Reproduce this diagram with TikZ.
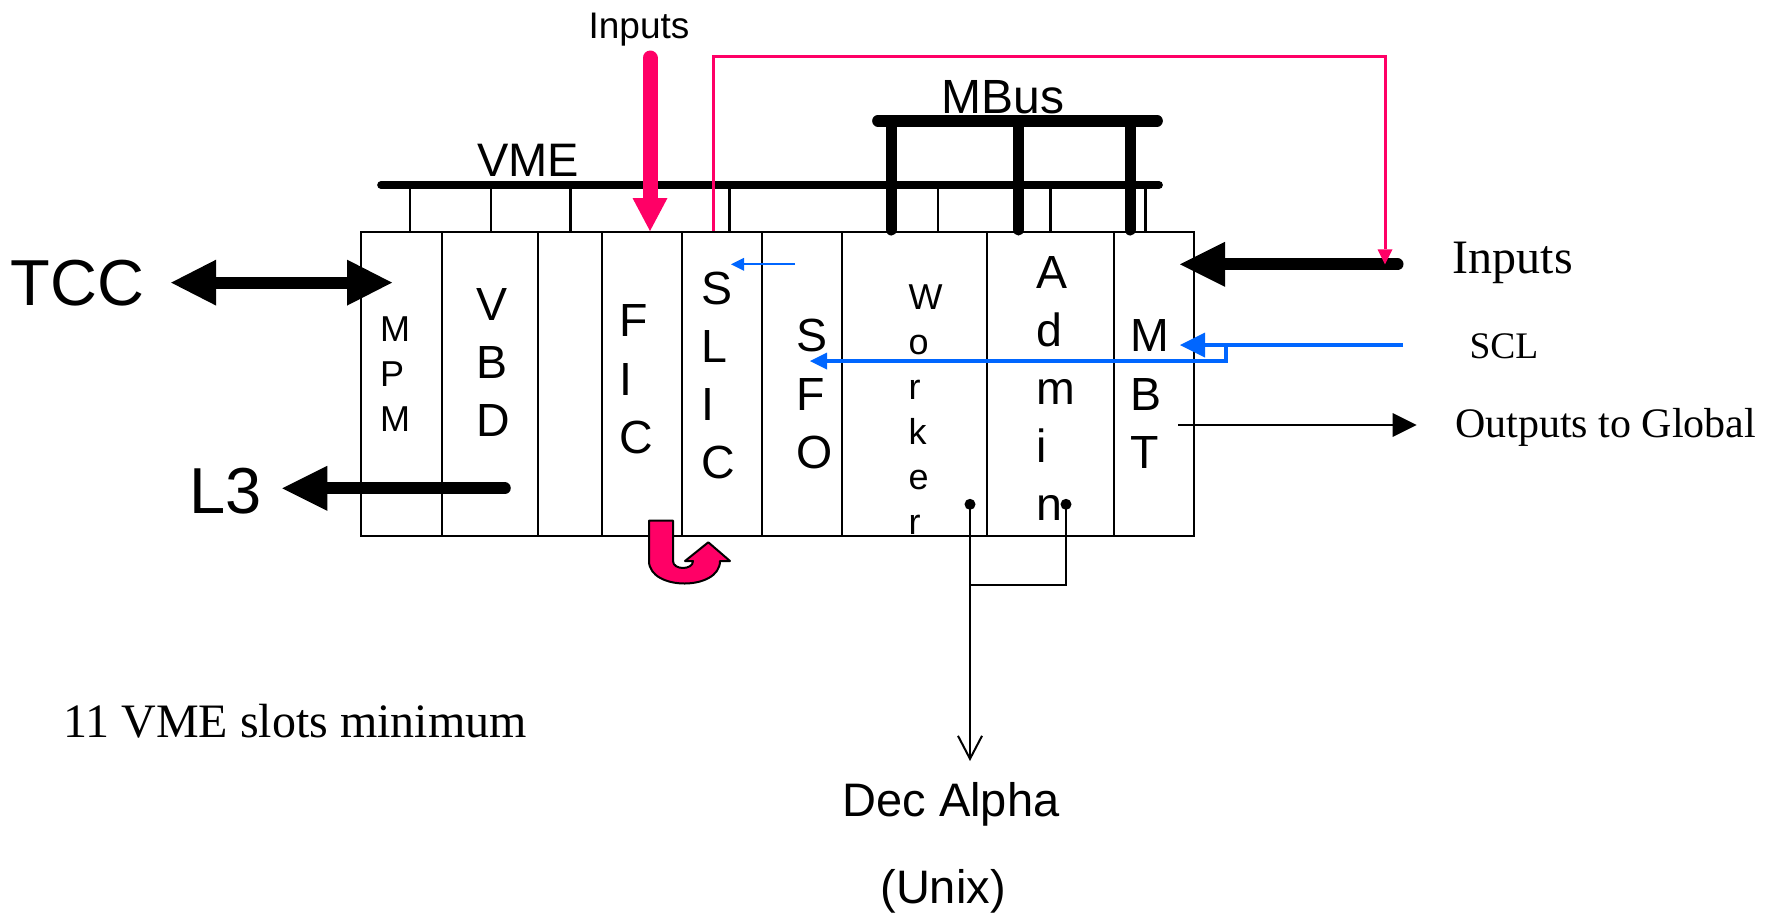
\documentclass[tikz,border=0pt]{standalone}
\usepackage{fontspec}
\setmainfont{Liberation Sans}
\newfontfamily\serifface{Liberation Serif}
\usetikzlibrary{arrows.meta}
\definecolor{pinkred}{RGB}{255,0,102}
\definecolor{sclblue}{RGB}{0,102,255}

\begin{document}
\begin{tikzpicture}[
    x=1pt, y=-1pt,
    slot/.style={draw, line width=2pt, minimum height=304pt, inner sep=0pt},
    letter/.style={font=\fontsize{46.5}{56}\selectfont, inner sep=0pt, anchor=base west},
    smallletter/.style={font=\fontsize{36}{44}\selectfont, inner sep=0pt, anchor=base west},
    lbl/.style={font=\fontsize{#1}{#1}\selectfont, inner sep=0pt, anchor=base},
    tnr/.style={font=\serifface\fontsize{#1}{#1}\selectfont, inner sep=0pt, anchor=base},
    stub/.style={line width=2.5pt},
    busstub/.style={line width=11pt, line cap=round},
    fat/.style={-{Triangle[length=45pt, width=45pt, line width=0pt]}, line width=12pt, line cap=round},
    dfat/.style={{Triangle[length=45pt, width=46pt, line width=0pt]}-{Triangle[length=45pt, width=46pt, line width=0pt]}, line width=12pt},
    pinkfat/.style={-{Triangle[length=33pt, width=35pt, line width=0pt]}, draw=pinkred, line width=15pt, line cap=round},
    pinkthin/.style={-{Triangle[length=15pt, width=15pt, line width=0pt]}, draw=pinkred, line width=3pt},
    bluearrow/.style={-{Triangle[length=#1, width=#1, line width=0pt]}, draw=sclblue, line width=3.5pt},
    thinarrow/.style={-{Triangle[length=24pt, width=24pt, line width=0pt]}, line width=2pt},
    openarrow/.style={-{Straight Barb[length=23pt, width=24pt]}, line width=2pt},
    wire/.style={line width=2pt},
    dot/.style={circle, fill, inner sep=0pt, minimum size=11pt}
  ]
    \useasboundingbox (0,0) rectangle (1769,914);

    % rack slots
    \foreach \n/\l/\r in {mpm/361/442, vbd/442/537.5, spare/537.5/601.5, fic/601.5/682, slic/682/762,
                          sfo/762/842, wrk/842/986.5, adm/986.5/1114, mbt/1114/1193.5}
      \node[slot, minimum width={(\r-\l)*1pt}] (\n) at ({(\l+\r)/2}, 384) {};

    % slot names
    \foreach \c [count=\i from 0] in {M,P,M} \node[smallletter] (mpm\i) at (380,341.7+45*\i) {\c};
    \foreach \c [count=\i from 0] in {V,B,D} \node[letter] (vbd\i) at (476.5,320+58.3*\i) {\c};
    \foreach \c [count=\i from 0] in {F,I,C} \node[letter] (fic\i) at (619.7,336.7+58.3*\i) {\c};
    \foreach \c [count=\i from 0] in {S,L,I,C} \node[letter] (slic\i) at (701,304+58*\i) {\c};
    \foreach \c [count=\i from 0] in {S,F,O} \node[letter] (sfo\i) at (796,351.7+58.3*\i) {\c};
    \foreach \c [count=\i from 0] in {W,o,r,k,e,r} \node[smallletter] (wrk\i) at (908.3,309+45*\i) {\c};
    \foreach \c [count=\i from 0] in {A,d,m,i,n} \node[letter] (adm\i) at (1036.5,288.3+58*\i) {\c};
    \foreach \c [count=\i from 0] in {M,B,T} \node[letter] (mbt\i) at (1130.4,351.7+58.3*\i) {\c};

    % VME and MBus
    \draw[line width=7.7pt, line cap=round] (381,185) -- (1159,185);
    \foreach \x in {410.2,490.9,570.4,729.5,937.9,1050.4,1145.3}
      \draw[stub] (\x,185) -- (\x,0 |- mpm.north);
    \draw[line width=11.7pt, line cap=round] (878,120.7) -- (1157,120.7);
    \foreach \x in {891.3,1018.5,1130}
      \draw[busstub] (\x,120.7) -- (\x,230);
    \node[lbl=47] (vme) at (528,176.7) {VME};
    \node[lbl=48] (mbus) at (1002.7,113.3) {MBus};

    % labels
    \node[lbl=37] (intop) at (639,38.3) {Inputs};
    \node[lbl=65] (tcc) at (77.7,305) {TCC};
    \node[lbl=65] (l3) at (226,513.3) {L3};
    \node[tnr=48] (inright) at (1512.7,273.3) {Inputs};
    \node[tnr=37.5] (scl) at (1504,358.3) {SCL};
    \node[tnr=42] (outg) at (1605.5,437.3) {Outputs to Global};
    \node[tnr=48] (slots) at (295,737.3) {11 VME slots minimum};
    \node[lbl=47] (dec) at (951,816.7) {Dec Alpha};
    \node[lbl=47] (unix) at (943,903) {(Unix)};

    % free ends
    \coordinate (inR) at (1397.5,264.3);
    \coordinate (sclR) at (1403,345);
    \coordinate (sclBend) at (1226,345);
    \coordinate (pinkTop) at (650,58);
    \coordinate (pinkTurn) at (1385,56);
    \coordinate (slicR) at (795,264.3);
    \coordinate (outR) at (1416.6,425);
    \coordinate (alphaTip) at (970,761);
    \coordinate (joint) at (970,585);

    \draw[dfat] ([xshift=26.5pt]tcc.east) -- ([xshift=32pt]tcc.east -| mpm.west);
    \draw[fat] ([xshift=15pt]vbd.center |- 0,488.3) -- ([xshift=20pt]l3.east |- 0,488.3);
    \draw[fat] (inR) -- ([xshift=-14.5pt]mbt.east |- inR);
    \draw[pinkfat] (pinkTop) -- (pinkTop |- fic.north);
    \draw[pinkthin] ([xshift=-9pt]slic.north) |- (pinkTurn) -- (pinkTurn |- inR);
    \draw[bluearrow=25pt] (sclR) -- ([xshift=-14.5pt]mbt.east |- sclR);
    \draw[bluearrow=17pt] (sclBend) -- ++(0,16) -- ([xshift=8pt]sfo.center |- 0,361);
    \draw[bluearrow=13pt, line width=1.8pt] (slicR) -- ([xshift=9pt]slic.center |- slicR);
    \draw[thinarrow] ([xshift=-16.5pt]mbt.east |- outR) -- (outR);

    % Dec Alpha link
    \node[dot] (wdot) at (970,504.3) {};
    \node[dot] (adot) at (1066,504.3) {};
    \draw[openarrow] (wdot.center) -- (alphaTip);
    \draw[wire] (adot.center) |- (joint);

    % U-turn
    \filldraw[fill=pinkred, draw=black, line width=2pt, line join=round]
      (649,520.7) -- (649,561) .. controls (649,591) and (720,591) .. (720,561)
      -- (730,561) -- (708.3,542.3) -- (685,561) -- (693,561)
      .. controls (693,570.3) and (673,570.3) .. (673,561) -- (673,520.7) -- cycle;
\end{tikzpicture}
\end{document}
